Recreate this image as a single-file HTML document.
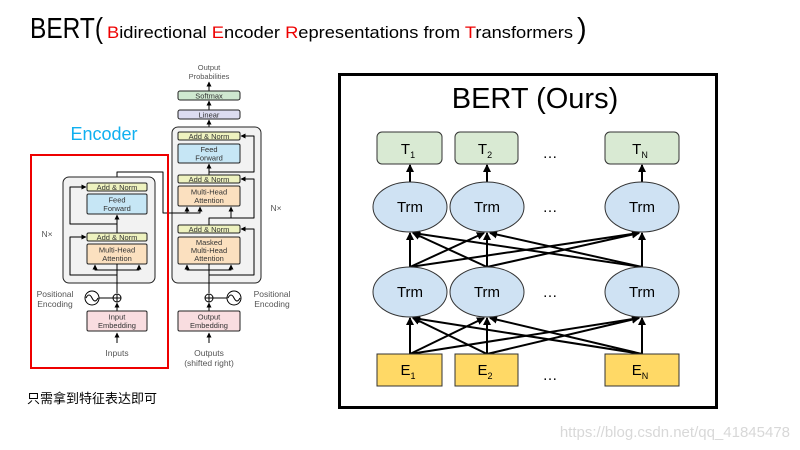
<!DOCTYPE html>
<html><head><meta charset="utf-8"><style>
html,body{margin:0;padding:0;background:#fff;}
svg{display:block;}
</style></head><body>
<svg width="800" height="450" viewBox="0 0 800 450" xmlns="http://www.w3.org/2000/svg" font-family="Liberation Sans, sans-serif">
<defs>
<marker id="a" markerWidth="8" markerHeight="8" refX="7" refY="4" orient="auto" markerUnits="userSpaceOnUse"><path d="M0,0 L8,4 L0,8 z" fill="#000"/></marker>
<marker id="s" markerWidth="5" markerHeight="5" refX="4.5" refY="2.5" orient="auto" markerUnits="userSpaceOnUse"><path d="M0,0 L5,2.5 L0,5 z" fill="#000"/></marker>
</defs>
<text x="30" y="38" font-size="29" fill="#000" textLength="73" lengthAdjust="spacingAndGlyphs">BERT(</text>
<text x="107" y="38" font-size="17" fill="#000" textLength="466" lengthAdjust="spacingAndGlyphs"><tspan fill="#e00">B</tspan>idirectional <tspan fill="#e00">E</tspan>ncoder <tspan fill="#e00">R</tspan>epresentations from <tspan fill="#e00">T</tspan>ransformers</text>
<text x="577" y="38" font-size="29" fill="#000">)</text>

<g font-size="7.5" fill="#333" text-anchor="middle" stroke-linejoin="round">
<text x="209" y="70" fill="#555">Output</text>
<text x="209" y="79" fill="#555">Probabilities</text>
<line x1="209" y1="91" x2="209" y2="82" stroke="#000" stroke-width="1" marker-end="url(#s)"/>
<rect x="178" y="91" width="62" height="9" rx="2" fill="#cfe8d0" stroke="#222" stroke-width="1"/>
<text x="209" y="98.5">Softmax</text>
<line x1="209" y1="110" x2="209" y2="101" stroke="#000" marker-end="url(#s)"/>
<rect x="178" y="110" width="62" height="9" rx="2" fill="#dcdcf0" stroke="#222"/>
<text x="209" y="117.5">Linear</text>
<line x1="209" y1="132" x2="209" y2="120" stroke="#000" marker-end="url(#s)"/>

<rect x="172" y="127" width="89" height="156" rx="6" fill="#f2f2f2" stroke="#222"/>
<rect x="178" y="132" width="62" height="8" rx="1.5" fill="#eef2bf" stroke="#222"/>
<text x="209" y="139">Add &amp; Norm</text>
<rect x="178" y="144" width="62" height="19" rx="1.5" fill="#c6e6f5" stroke="#222"/>
<text x="209" y="152">Feed</text><text x="209" y="160.5">Forward</text>
<line x1="209" y1="175" x2="209" y2="164" stroke="#000" marker-end="url(#s)"/>
<rect x="178" y="175" width="62" height="8" rx="1.5" fill="#eef2bf" stroke="#222"/>
<text x="209" y="182">Add &amp; Norm</text>
<rect x="178" y="186" width="62" height="20" rx="1.5" fill="#fbe0bf" stroke="#222"/>
<text x="209" y="194.5">Multi-Head</text><text x="209" y="203">Attention</text>
<rect x="178" y="225" width="62" height="8" rx="1.5" fill="#eef2bf" stroke="#222"/>
<text x="209" y="232">Add &amp; Norm</text>
<rect x="178" y="237" width="62" height="27" rx="1.5" fill="#fbe0bf" stroke="#222"/>
<text x="209" y="245">Masked</text><text x="209" y="253">Multi-Head</text><text x="209" y="261">Attention</text>
<g fill="none" stroke="#000" stroke-width="1">
<path d="M209 293 V264"/>
<path d="M209 270 H187 V265" marker-end="url(#s)"/><path d="M209 270 H231 V265" marker-end="url(#s)"/>
<path d="M209 275 H254 V229 H241" marker-end="url(#s)"/>
<path d="M209 225 V218 H231 V207" marker-end="url(#s)"/>
<path d="M209 218 H254 V179 H241" marker-end="url(#s)"/>
<path d="M209 172 H254 V136 H241" marker-end="url(#s)"/>
<path d="M209 311 V303" marker-end="url(#s)"/>
<path d="M209 343 V333" marker-end="url(#s)"/>
<path d="M117 183 V172 H163 V213 H200 V207" marker-end="url(#s)"/>
<path d="M187 213 V207" marker-end="url(#s)"/>
</g>
<circle cx="209" cy="298" r="4" fill="#fff" stroke="#000"/><path d="M205 298 H213 M209 294 V302" stroke="#000"/>
<line x1="213" y1="298" x2="227" y2="298" stroke="#000"/>
<circle cx="234" cy="298" r="7" fill="#fff" stroke="#000"/><path d="M228 298 q3 -6 6 0 t6 0" fill="none" stroke="#000"/>
<rect x="178" y="311" width="62" height="20" rx="1.5" fill="#f9dde0" stroke="#222"/>
<text x="209" y="319.5">Output</text><text x="209" y="328">Embedding</text>
<text x="209" y="356" font-size="8.5" fill="#555">Outputs</text>
<text x="209" y="366" font-size="8.5" fill="#555">(shifted right)</text>
<text x="272" y="297" font-size="8.5" fill="#555">Positional</text>
<text x="272" y="307" font-size="8.5" fill="#555">Encoding</text>
<text x="276" y="211" font-size="8.5" fill="#555">N×</text>

<rect x="63" y="177" width="92" height="106" rx="6" fill="#f2f2f2" stroke="#222"/>
<rect x="87" y="183" width="60" height="8" rx="1.5" fill="#eef2bf" stroke="#222"/>
<text x="117" y="190">Add &amp; Norm</text>
<rect x="87" y="194" width="60" height="20" rx="1.5" fill="#c6e6f5" stroke="#222"/>
<text x="117" y="202.5">Feed</text><text x="117" y="211">Forward</text>
<rect x="87" y="233" width="60" height="8" rx="1.5" fill="#eef2bf" stroke="#222"/>
<text x="117" y="240">Add &amp; Norm</text>
<rect x="87" y="244" width="60" height="20" rx="1.5" fill="#fbe0bf" stroke="#222"/>
<text x="117" y="252.5">Multi-Head</text><text x="117" y="261">Attention</text>
<g fill="none" stroke="#000" stroke-width="1">
<path d="M117 293 V264"/>
<path d="M117 270 H95 V265" marker-end="url(#s)"/><path d="M117 270 H139 V265" marker-end="url(#s)"/>
<path d="M117 275 H70 V237 H86" marker-end="url(#s)"/>
<path d="M117 233 V215" marker-end="url(#s)"/>
<path d="M117 224 H70 V187 H86" marker-end="url(#s)"/>
<path d="M117 311 V303" marker-end="url(#s)"/>
<path d="M117 343 V333" marker-end="url(#s)"/>
</g>
<circle cx="117" cy="298" r="4" fill="#fff" stroke="#000"/><path d="M113 298 H121 M117 294 V302" stroke="#000"/>
<line x1="99" y1="298" x2="113" y2="298" stroke="#000"/>
<circle cx="92" cy="298" r="7" fill="#fff" stroke="#000"/><path d="M86 298 q3 -6 6 0 t6 0" fill="none" stroke="#000"/>
<rect x="87" y="311" width="60" height="20" rx="1.5" fill="#f9dde0" stroke="#222"/>
<text x="117" y="319.5">Input</text><text x="117" y="328">Embedding</text>
<text x="117" y="356" font-size="8.5" fill="#555">Inputs</text>
<text x="55" y="297" font-size="8.5" fill="#555">Positional</text>
<text x="55" y="307" font-size="8.5" fill="#555">Encoding</text>
<text x="47" y="237" font-size="8.5" fill="#555">N×</text>
</g>
<rect x="31" y="155" width="137" height="213" fill="none" stroke="#e00" stroke-width="2"/>
<text x="104" y="140" font-size="18" fill="#10b0f0" text-anchor="middle">Encoder</text>

<rect x="339.5" y="74.5" width="377" height="333" fill="#fff" stroke="#000" stroke-width="3"/>
<text x="535" y="108" font-size="29" text-anchor="middle" fill="#000">BERT (Ours)</text>
<g stroke="#000" stroke-width="2" fill="none">
<path d="M410 354 L410 318" marker-end="url(#a)"/>
<path d="M487 354 L487 318" marker-end="url(#a)"/>
<path d="M642 354 L642 318" marker-end="url(#a)"/>
<path d="M410 354 L484 318" marker-end="url(#a)"/>
<path d="M410 354 L639 318" marker-end="url(#a)"/>
<path d="M487 354 L413 318" marker-end="url(#a)"/>
<path d="M487 354 L639 318" marker-end="url(#a)"/>
<path d="M642 354 L413 318" marker-end="url(#a)"/>
<path d="M642 354 L490 318" marker-end="url(#a)"/>
<path d="M410 267 L410 233" marker-end="url(#a)"/>
<path d="M487 267 L487 233" marker-end="url(#a)"/>
<path d="M642 267 L642 233" marker-end="url(#a)"/>
<path d="M410 267 L484 233" marker-end="url(#a)"/>
<path d="M410 267 L639 233" marker-end="url(#a)"/>
<path d="M487 267 L413 233" marker-end="url(#a)"/>
<path d="M487 267 L639 233" marker-end="url(#a)"/>
<path d="M642 267 L413 233" marker-end="url(#a)"/>
<path d="M642 267 L490 233" marker-end="url(#a)"/>
<path d="M410 182 L410 165" marker-end="url(#a)"/>
<path d="M487 182 L487 165" marker-end="url(#a)"/>
<path d="M642 182 L642 165" marker-end="url(#a)"/>
</g>
<g stroke="#333" stroke-width="1">
<rect x="377" y="132" width="65" height="32" rx="5" fill="#d9ead3"/>
<rect x="455" y="132" width="63" height="32" rx="5" fill="#d9ead3"/>
<rect x="605" y="132" width="74" height="32" rx="5" fill="#d9ead3"/>
<ellipse cx="410" cy="207" rx="37" ry="25" fill="#cfe2f3"/>
<ellipse cx="487" cy="207" rx="37" ry="25" fill="#cfe2f3"/>
<ellipse cx="642" cy="207" rx="37" ry="25" fill="#cfe2f3"/>
<ellipse cx="410" cy="292" rx="37" ry="25" fill="#cfe2f3"/>
<ellipse cx="487" cy="292" rx="37" ry="25" fill="#cfe2f3"/>
<ellipse cx="642" cy="292" rx="37" ry="25" fill="#cfe2f3"/>
<rect x="377" y="354" width="65" height="32" fill="#ffd966"/>
<rect x="455" y="354" width="63" height="32" fill="#ffd966"/>
<rect x="605" y="354" width="74" height="32" fill="#ffd966"/>
</g>
<g font-size="15" fill="#000" text-anchor="middle">
<text x="408" y="154">T<tspan font-size="9" dy="4">1</tspan></text>
<text x="485" y="154">T<tspan font-size="9" dy="4">2</tspan></text>
<text x="640" y="154">T<tspan font-size="9" dy="4">N</tspan></text>
<text x="550" y="158">…</text>
<text x="410" y="212">Trm</text><text x="487" y="212">Trm</text><text x="642" y="212">Trm</text>
<text x="550" y="212">…</text>
<text x="410" y="297">Trm</text><text x="487" y="297">Trm</text><text x="642" y="297">Trm</text>
<text x="550" y="297">…</text>
<text x="408" y="375">E<tspan font-size="9" dy="4">1</tspan></text>
<text x="485" y="375">E<tspan font-size="9" dy="4">2</tspan></text>
<text x="640" y="375">E<tspan font-size="9" dy="4">N</tspan></text>
<text x="550" y="380">…</text>
</g>

<text x="27" y="403" font-size="13" font-family="Liberation Sans, Noto Sans CJK SC, sans-serif" fill="#000">只需拿到特征表达即可</text>
<text x="790" y="437" font-size="15" fill="#d8d8d8" text-anchor="end">https://blog.csdn.net/qq_41845478</text>
</svg>
</body></html>
